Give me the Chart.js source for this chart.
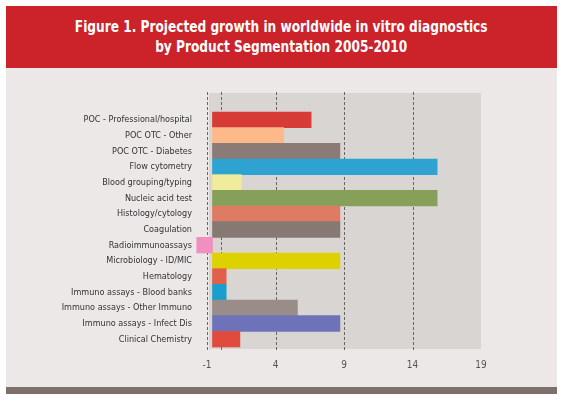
<!DOCTYPE html>
<html>
<head>
<meta charset="utf-8">
<script src="https://cdn.jsdelivr.net/npm/chart.js@4"></script>
<style>
  html, body { margin: 0; padding: 0; background: #fff; }
  #frame { position: absolute; left: 6px; top: 6px; width: 551px; }
  #header {
    height: 62px; background: #cc2229; color: #fff;
    font-family: 'DejaVu Sans Condensed', 'Liberation Sans', sans-serif;
    font-weight: bold; font-size: 16px; line-height: 20px;
    text-align: center; box-sizing: border-box; padding-top: 11px;
  }
  #header span { display: inline-block; transform: scaleX(0.845); white-space: nowrap; }
  #panel { height: 319px; background: #ebe8e7; position: relative; }
  #strip { height: 7px; background: #7d6f6b; }
</style>
</head>
<body>
<div id="frame">
  <div id="header"><span>Figure 1. Projected growth in worldwide in vitro diagnostics<br>by Product Segmentation 2005-2010</span></div>
  <div id="panel"><canvas id="chart" width="551" height="319"></canvas></div>
  <div id="strip"></div>
</div>
<script>
const segments = [
  'POC - Professional/hospital', 'POC OTC - Other', 'POC OTC - Diabetes',
  'Flow cytometry', 'Blood grouping/typing', 'Nucleic acid test',
  'Histology/cytology', 'Coagulation', 'Radioimmunoassays',
  'Microbiology - ID/MIC', 'Hematology', 'Immuno assays - Blood banks',
  'Immuno assays - Other Immuno', 'Immuno assays - Infect Dis', 'Clinical Chemistry'
];
const growth = [6.6, 4.6, 8.7, 15.8, 1.5, 15.8, 8.7, 8.7, -1.75, 8.7, 0.4, 0.4, 5.6, 8.7, 1.4];
const xTickValues = [-1, 4, 9, 14, 19];
const gridValues = [-1, 0, 4, 9, 14];

const barColors = [
  '#d63b36', '#fdb98a', '#8a7b77', '#2ea3d1', '#f1ec9b', '#86a05a', '#e07b63',
  '#867974', '#f08fc0', '#ddd200', '#e0604a', '#1a9fcc', '#9a8c88', '#6e73b9', '#e04b3e'
];

const labelFont = "'DejaVu Sans Condensed', 'Liberation Sans', sans-serif";

// gray plot box + dashed verticals
const plotBackground = {
  id: 'plotBackground',
  beforeDatasetsDraw(chart) {
    const { ctx, chartArea: a, scales: { x } } = chart;
    ctx.save();
    ctx.fillStyle = '#d9d5d3';
    ctx.fillRect(a.left + 2, a.top - 19, a.right - a.left - 2, a.bottom - a.top + 21);
    ctx.strokeStyle = '#6b6361';
    ctx.lineWidth = 1;
    ctx.setLineDash([3, 2]);
    gridValues.forEach(v => {
      const px = Math.round(x.getPixelForValue(v)) + 0.5;
      ctx.beginPath();
      ctx.moveTo(px, a.top - 20);
      ctx.lineTo(px, a.bottom + 5);
      ctx.stroke();
    });
    ctx.restore();
  }
};

new Chart(document.getElementById('chart'), {
  type: 'bar',
  data: {
    labels: segments,
    datasets: [{
      data: growth,
      base: -0.6,
      backgroundColor: barColors,
      barPercentage: 1,
      categoryPercentage: 1,
      clip: false
    }]
  },
  options: {
    indexAxis: 'y',
    responsive: false,
    animation: false,
    layout: { padding: { top: 44, right: 76, left: 0, bottom: 0 } },
    plugins: { legend: { display: false }, tooltip: { enabled: false } },
    scales: {
      x: {
        min: -1,
        max: 19,
        afterBuildTicks: s => { s.ticks = xTickValues.map(v => ({ value: v })); },
        afterFit: s => { s.height = 40; },
        grid: { display: false, drawTicks: false },
        border: { display: false },
        ticks: {
          padding: 12,
          color: '#555',
          font: { family: labelFont, size: 10 }
        }
      },
      y: {
        afterFit: s => { s.width = 201; },
        grid: { display: false, drawTicks: false },
        border: { display: false },
        ticks: {
          padding: 15,
          color: '#333',
          autoSkip: false,
          font: { family: labelFont, size: 9 }
        }
      }
    }
  },
  plugins: [plotBackground]
});
</script>
</body>
</html>
